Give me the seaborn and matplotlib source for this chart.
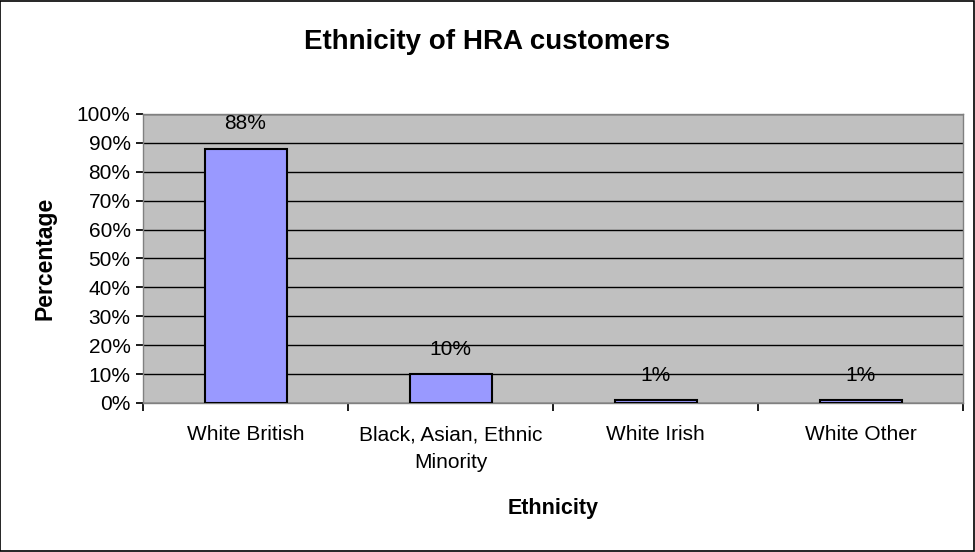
import matplotlib.pyplot as plt
import matplotlib.patches as mpatches
import seaborn as sns
import pandas as pd
from matplotlib.ticker import FixedLocator, PercentFormatter

ethnicities = ["White British", "Black, Asian, Ethnic\nMinority", "White Irish", "White Other"]
percentages = [88, 10, 1, 1]
yticks = list(range(0, 101, 10))

sns.set_theme(style="white")
plt.rcParams['font.family'] = ['Liberation Sans', 'DejaVu Sans']
plt.rcParams['text.color'] = 'black'
plt.rcParams['xtick.color'] = 'black'
plt.rcParams['ytick.color'] = 'black'
plt.rcParams['axes.labelcolor'] = 'black'

dfrm = pd.DataFrame({'ethnicity': ethnicities, 'pct': percentages})

fig = plt.figure(figsize=(9.75, 5.52), dpi=100)
ax = fig.add_axes([0.1467, 0.270, 0.8410, 0.5235])
sns.barplot(data=dfrm, x='ethnicity', y='pct', color='#9999FF', saturation=1,
            width=0.4, edgecolor='black', linewidth=1.5, ax=ax, zorder=3)
ax.set_facecolor('#C0C0C0')
ax.set_ylim(0, 100)
ax.set_xlim(-0.5, len(ethnicities) - 0.5)
ax.yaxis.set_major_locator(FixedLocator(yticks))
ax.yaxis.set_major_formatter(PercentFormatter(decimals=0))
ax.grid(axis='y', color='black', linewidth=1, zorder=0)
ax.set_axisbelow(True)
for spine in ax.spines.values():
    spine.set_color('#808080')
    spine.set_linewidth(1)

# x ticks on category boundaries, labels centred under the bars
ax.set_xticks([i + 0.5 for i in range(-1, len(ethnicities))], minor=False)
ax.set_xticklabels([])
ax.set_xticks(range(len(ethnicities)), minor=True)
ax.set_xticklabels(ethnicities, minor=True, fontsize=15)
for lbl in ax.get_xticklabels(minor=True):
    lbl.set_linespacing(1.6)
ax.tick_params(axis='x', which='minor', length=0, pad=16)
ax.tick_params(axis='x', which='major', direction='out', length=6, color='black', bottom=True)
ax.tick_params(axis='y', direction='out', length=5, color='black', left=True, labelsize=15, pad=4)

for i, val in enumerate(percentages):
    ax.annotate("{V}%".format(V=val), (i, val), xytext=(0, 25), textcoords='offset pixels',
                ha='center', va='center', fontsize=15, zorder=5)

ax.set_xlabel("Ethnicity", fontsize=15.5, fontweight='bold')
ax.set_ylabel("Percentage", fontsize=16.5, fontweight='bold')
ax.xaxis.set_label_coords(0.5, -0.366)
ax.yaxis.set_label_coords(-0.1195, 0.5)
ax.xaxis.label.set_va('center')
ax.yaxis.label.set_va('center')
fig.text(0.5, 1 - 42 / 552, "Ethnicity of HRA customers", ha='center', va='center',
         fontsize=20, fontweight='bold')

fig.patches.append(mpatches.Rectangle((0.0005, 0.001), 0.998, 0.997, transform=fig.transFigure,
                                      fill=False, edgecolor='black', linewidth=1.2))
fig.savefig("out.png", dpi=100)
